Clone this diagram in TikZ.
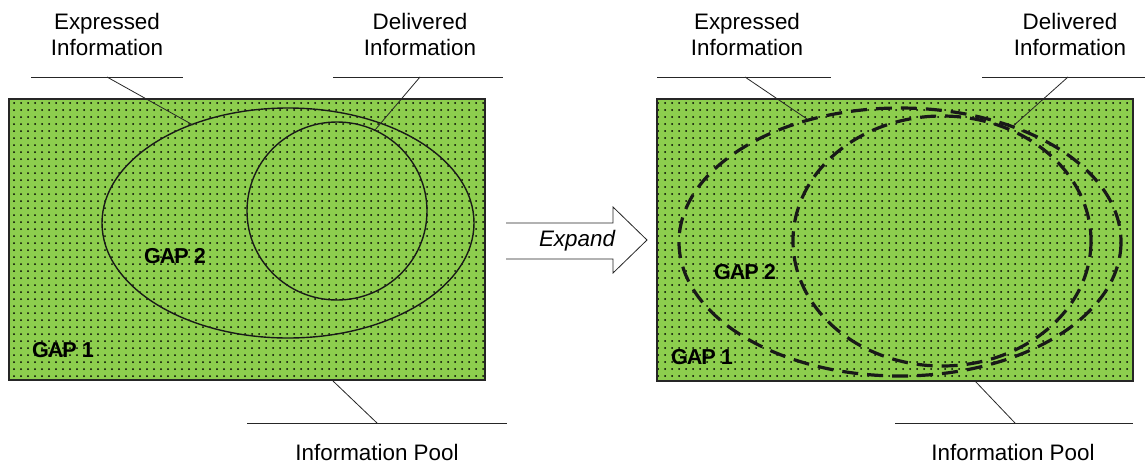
\documentclass[tikz,border=0pt]{standalone}
\usepackage{fontspec}
\setmainfont{Liberation Sans}
\usetikzlibrary{patterns.meta}
\definecolor{poolgreen}{RGB}{141,206,78}
\begin{document}
\begin{tikzpicture}[
  x=0.5pt, y=-0.5pt,
  label/.style={align=center, inner sep=0pt, font=\fontsize{11.2}{13}\selectfont},
  gaplabel/.style={inner sep=0pt, font=\fontsize{10.8}{12}\selectfont\bfseries\addfontfeatures{LetterSpace=-5}},
  pool/.style={fill=poolgreen},
  pooldots/.style={pattern={Dots[distance=3.5pt,radius=0.5pt]}, pattern color=black},
  poolframe/.style={draw=black!85, line width=0.75pt},
  leader/.style={draw=black!85, line width=0.4pt},
  solidset/.style={draw=black!90, line width=0.7pt},
  dashedset/.style={draw=black!90, line width=1.6pt, dash pattern=on 8pt off 4.5pt}
]
\useasboundingbox (0,0) rectangle (1145,467);

% left panel
\fill[pool] (9,99) rectangle (485,380);
\fill[pooldots] (9,99) rectangle (485,380);
\draw[poolframe] (9,99) rectangle (485,380);
\draw[solidset] (288,223) ellipse [x radius=186, y radius=115];
\draw[solidset] (337,211) ellipse [x radius=90, y radius=89];

\node[gaplabel] (gap2L) at (175,256) {GAP 2};
\node[gaplabel] (gap1L) at (63,350) {GAP 1};

\node[label] (exprL) at (107,34) {Expressed\\Information};
\node[label] (delivL) at (420,34) {Delivered\\Information};
\node[label] (poolL) at (377,452) {Information Pool};

\coordinate (exprLknee) at (107,77);
\coordinate (exprLtip) at (193,125);
\coordinate (delivLknee) at (420,77);
\coordinate (delivLtip) at (375,130);
\coordinate (poolLknee) at (377,423);
\coordinate (poolLtip) at (333,381);

\draw[leader] (31,77) -- (183,77);
\draw[leader] (exprLknee) -- (exprLtip);
\draw[leader] (333,77) -- (503,77);
\draw[leader] (delivLknee) -- (delivLtip);
\draw[leader] (247,423) -- (507,423);
\draw[leader] (poolLknee) -- (poolLtip);

% expand arrow
\draw[leader, fill=white] (506,223) -- (613,223) -- (613,207) -- (647,240)
  -- (613,273) -- (613,259) -- (506,259);
\node[label, anchor=base] (expand) at (577,246) {\itshape Expand};

% right panel
\fill[pool] (657,99) rectangle (1133,381);
\fill[pooldots] (657,99) rectangle (1133,381);
\draw[poolframe] (657,99) rectangle (1133,381);
\draw[dashedset] (900,242) ellipse [x radius=221, y radius=134];
\draw[dashedset] (942,241) ellipse [x radius=149, y radius=125];

\node[gaplabel] (gap2R) at (745,272) {GAP 2};
\node[gaplabel] (gap1R) at (702,357) {GAP 1};

\node[label] (exprR) at (747,34) {Expressed\\Information};
\node[label] (delivR) at (1070,34) {Delivered\\Information};
\node[label] (poolR) at (1013,452) {Information Pool};

\coordinate (exprRknee) at (745,77);
\coordinate (exprRtip) at (807,119);
\coordinate (delivRknee) at (1068,77);
\coordinate (delivRtip) at (1012,127);
\coordinate (poolRknee) at (1015,423);
\coordinate (poolRtip) at (975,381);

\draw[leader] (657,77) -- (831,77);
\draw[leader] (exprRknee) -- (exprRtip);
\draw[leader] (982,77) -- (1145,77);
\draw[leader] (delivRknee) -- (delivRtip);
\draw[leader] (895,423) -- (1133,423);
\draw[leader] (poolRknee) -- (poolRtip);
\end{tikzpicture}
\end{document}
